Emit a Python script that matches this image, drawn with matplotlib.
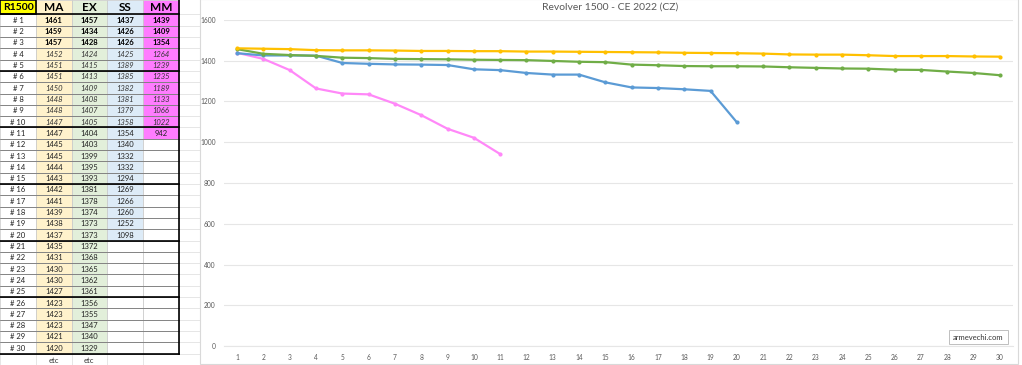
import matplotlib
matplotlib.use('Agg')
import matplotlib.pyplot as plt
from matplotlib.patches import Rectangle

plt.rcParams['font.family'] = ['Lato', 'DejaVu Sans']

# data read from the sheet
headers = ['R1500', 'MA', 'EX', 'SS', 'MM']
rank_labels = ['# {}'.format(i) for i in range(1, 31)]
MA = [1461, 1459, 1457, 1452, 1451, 1451, 1450, 1448, 1448, 1447, 1447, 1445, 1445, 1444, 1443,
      1442, 1441, 1439, 1438, 1437, 1435, 1431, 1430, 1430, 1427, 1423, 1423, 1423, 1421, 1420]
EX = [1457, 1434, 1428, 1424, 1415, 1413, 1409, 1408, 1407, 1405, 1404, 1403, 1399, 1395, 1393,
      1381, 1378, 1374, 1373, 1373, 1372, 1368, 1365, 1362, 1361, 1356, 1355, 1347, 1340, 1329]
SS = [1437, 1426, 1426, 1425, 1389, 1385, 1382, 1381, 1379, 1358, 1354, 1340, 1332, 1332, 1294,
      1269, 1266, 1260, 1252, 1098]
MM = [1439, 1409, 1354, 1264, 1239, 1235, 1189, 1133, 1066, 1022, 942]
series = [MA, EX, SS, MM]

title = 'Revolver 1500 - CE 2022 (CZ)'
col_fill = ['#FFFF00', '#FFF2CC', '#E2EFDA', '#DDEBF7', '#FF7CFF']
line_colors = ['#FFC000', '#70AD47', '#5B9BD5', '#FF88F8']

fig = plt.figure(figsize=(10.22, 3.65), dpi=100)
fig.patch.set_facecolor('white')

# pixel-space background axes for the spreadsheet part
bg = fig.add_axes([0, 0, 1, 1])
bg.set_xlim(0, 1022)
bg.set_ylim(365, 0)
bg.axis('off')

col_edges = [0, 36, 71.5, 107, 143, 179]
row_top = 14.35
row_h = 11.31
n_rows = 30

# light sheet gridlines to the right of the table
for i in range(n_rows + 3):
    y = row_top + i * row_h
    bg.plot([179, 199.5], [y, y], color='#E2E2E2', lw=0.6, zorder=1)

# header row
for c in range(5):
    x0, x1 = col_edges[c], col_edges[c + 1]
    bg.add_patch(Rectangle((x0, 0), x1 - x0, row_top, facecolor=col_fill[c],
                           edgecolor='#C8C8C8', lw=0.5, zorder=2))
    bg.text((x0 + x1) / 2, row_top / 2 + 0.5, headers[c], ha='center', va='center',
            fontsize=8.5 if c else 7.5, fontweight='bold', color='black', zorder=4)
bg.add_patch(Rectangle((0, 0), 36, row_top, facecolor='none', edgecolor='black', lw=1.2, zorder=5))

# body
for r in range(n_rows):
    y0 = row_top + r * row_h
    yc = y0 + row_h / 2 + 0.3
    if r < 3:
        weight, style, tc = 'bold', 'normal', 'black'
    elif r < 10:
        weight, style, tc = 'normal', 'italic', '#333333'
    else:
        weight, style, tc = 'normal', 'normal', '#222222'
    bg.add_patch(Rectangle((0, y0), 36, row_h, facecolor='white', edgecolor='#C8C8C8', lw=0.5, zorder=2))
    bg.text(18, yc, rank_labels[r], ha='center', va='center', fontsize=5.5, color='#222222', zorder=4)
    for s, vals in enumerate(series):
        x0, x1 = col_edges[s + 1], col_edges[s + 2]
        has = r < len(vals)
        fc = col_fill[s + 1] if has else 'white'
        bg.add_patch(Rectangle((x0, y0), x1 - x0, row_h, facecolor=fc, edgecolor='#C8C8C8',
                               lw=0.5, zorder=2))
        if has:
            bg.text((x0 + x1) / 2, yc, str(vals[r]), ha='center', va='center', fontsize=5.5,
                    fontweight=weight, fontstyle=style, color=tc, zorder=4)
    bg.plot([0, 179], [y0 + row_h, y0 + row_h], color='#666666', lw=0.5, zorder=3)

# thick borders every 5 rows
for k in range(0, n_rows + 1, 5):
    y = row_top + k * row_h
    bg.plot([0, 179], [y, y], color='black', lw=1.2, zorder=5)
bg.plot([179, 179], [0, row_top + n_rows * row_h], color='black', lw=1.2, zorder=5)

# "etc" row
y_etc = row_top + n_rows * row_h + row_h / 2 + 1
for s in range(2):
    x0, x1 = col_edges[s + 1], col_edges[s + 2]
    bg.text((x0 + x1) / 2, y_etc, 'etc', ha='center', va='center', fontsize=5.5, color='#333333')
for x in col_edges[:-1]:
    bg.plot([x, x], [row_top + n_rows * row_h, 365], color='#E2E2E2', lw=0.6, zorder=1)

# chart frame
bg.add_patch(Rectangle((199.5, -1), 818.5, 365, facecolor='white', edgecolor='#D9D9D9',
                       lw=0.8, zorder=1))
bg.text(610, 7, title, ha='center', va='center', fontsize=7.5, color='#595959', zorder=4)
bg.text(978.5, 337, 'armevechi.com', ha='center', va='center', fontsize=5.5, color='#333333',
        zorder=6, bbox=dict(boxstyle='square,pad=0.5', facecolor='white', edgecolor='#BFBFBF', lw=0.7))

# the line chart
ax = fig.add_axes([224 / 1022, (365 - 346) / 365, (1013 - 224) / 1022, (346 - 20) / 365])
ax.set_facecolor('none')
for vals, col in zip(series[::-1], line_colors[::-1]):
    xs = list(range(1, len(vals) + 1))
    ax.plot(xs, vals, color=col, lw=1.6, marker='o', markersize=3, markeredgewidth=0,
            solid_capstyle='round', zorder=3)
ax.set_xlim(0.5, 30.5)
ax.set_ylim(0, 1600)
ax.set_yticks(range(0, 1601, 200))
ax.set_xticks(range(1, 31))
ax.grid(axis='y', color='#E6E6E6', lw=0.8)
ax.set_axisbelow(True)
for sp in ax.spines.values():
    sp.set_visible(False)
ax.spines['bottom'].set_visible(True)
ax.spines['bottom'].set_color('#E6E6E6')
ax.tick_params(length=0, labelsize=4.8, labelcolor='#595959', pad=6)

fig.savefig('out.png', dpi=100)
